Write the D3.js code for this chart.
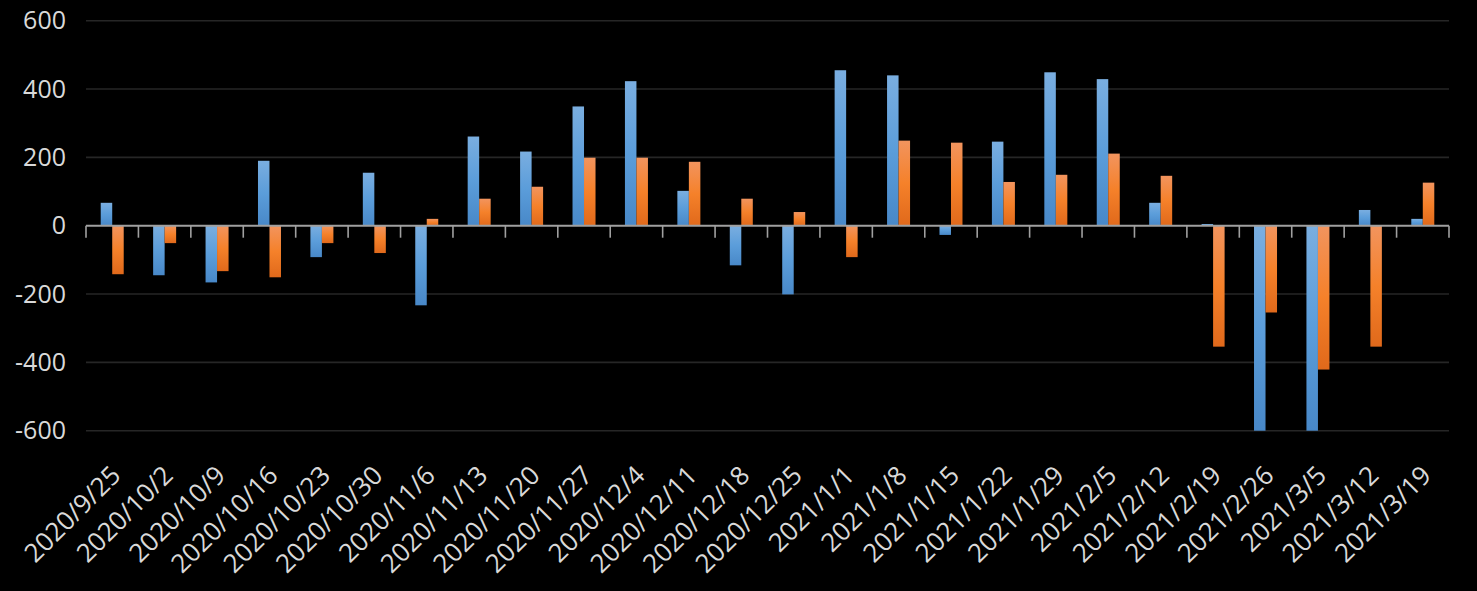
<!DOCTYPE html>
<html>
<head>
<meta charset="utf-8">
<script src="https://cdn.jsdelivr.net/npm/d3@7"></script>
<style>
  html, body { margin: 0; padding: 0; background: #000; }
  svg { display: block; }
</style>
</head>
<body>
<svg id="chart" width="1477" height="591"></svg>
<script>
const categories = ["2020/9/25","2020/10/2","2020/10/9","2020/10/16","2020/10/23","2020/10/30","2020/11/6","2020/11/13","2020/11/20","2020/11/27","2020/12/4","2020/12/11","2020/12/18","2020/12/25","2021/1/1","2021/1/8","2021/1/15","2021/1/22","2021/1/29","2021/2/5","2021/2/12","2021/2/19","2021/2/26","2021/3/5","2021/3/12","2021/3/19"];
const seriesA = [67,-145,-166,190,-92,155,-233,261,217,349,423,102,-116,-201,455,440,-27,246,449,429,67,5,-600,-600,46,20];
const seriesB = [-142,-51,-133,-151,-51,-80,20,79,114,199,199,187,79,40,-92,249,243,128,149,211,146,-354,-254,-421,-354,126];
const yTicks = [-600,-400,-200,0,200,400,600];
const seriesKeys = ["A","B"];

(function () {
const plotLeft = 86, plotRight = 1449, plotTop = 20.7, plotBottom = 430.7;

const svg = d3.select("#chart");
const defs = svg.append("defs");

function grad(id, stops) {
  const g = defs.append("linearGradient").attr("id", id)
    .attr("x1", 0).attr("y1", 0).attr("x2", 0).attr("y2", 1);
  stops.forEach(([o, c]) => g.append("stop").attr("offset", o).attr("stop-color", c));
}
grad("gA", [[0, "#7aaee0"], [0.5, "#5b9dda"], [1, "#4888c8"]]);
grad("gB", [[0, "#f2945e"], [0.5, "#f5812a"], [1, "#e0691b"]]);

const y = d3.scaleLinear().domain([-600, 600]).range([plotBottom, plotTop]);
const step = (plotRight - plotLeft) / categories.length;
const groupW = 23;
const pad = (step - groupW) / step;
const x0 = d3.scaleBand().domain(categories).range([plotLeft, plotRight])
  .paddingInner(pad).paddingOuter(pad / 2);
const x1 = d3.scaleBand().domain(seriesKeys).range([0, x0.bandwidth()]);

// gridlines
svg.append("g").selectAll("line").data(yTicks.filter(d => d !== 0)).join("line")
  .attr("x1", plotLeft).attr("x2", plotRight)
  .attr("y1", d => y(d)).attr("y2", d => y(d))
  .attr("stroke", "#262626").attr("stroke-width", 1.6);

// y labels
svg.append("g").selectAll("text").data(yTicks).join("text")
  .attr("x", 66).attr("y", d => y(d))
  .attr("dy", "0.35em")
  .attr("text-anchor", "end")
  .attr("font-family", "'Open Sans', sans-serif")
  .attr("font-size", 25)
  .attr("fill", "#d9d9d9")
  .text(d => d);

// bars
const rows = categories.map((c, i) => ({ c, vals: [seriesA[i], seriesB[i]] }));
const g = svg.append("g");
rows.forEach(r => {
  r.vals.forEach((v, k) => {
    const key = seriesKeys[k];
    g.append("rect")
      .attr("x", x0(r.c) + x1(key))
      .attr("width", x1.bandwidth())
      .attr("y", Math.min(y(v), y(0)))
      .attr("height", Math.abs(y(v) - y(0)))
      .attr("fill", `url(#g${key})`);
  });
});

// zero axis line
svg.append("line")
  .attr("x1", plotLeft).attr("x2", plotRight)
  .attr("y1", y(0)).attr("y2", y(0))
  .attr("stroke", "#a0a0a0").attr("stroke-width", 2);

// ticks at category boundaries
const bounds = categories.map((c, i) => plotLeft + i * step).concat([plotRight]);
svg.append("g").selectAll("line").data(bounds).join("line")
  .attr("x1", d => d).attr("x2", d => d)
  .attr("y1", y(0)).attr("y2", y(0) + 12)
  .attr("stroke", "#a0a0a0").attr("stroke-width", 1.6);

// x labels
svg.append("g").selectAll("text").data(categories).join("text")
  .attr("transform", d => `translate(${x0(d) + x0.bandwidth() / 2 + 10},${477}) rotate(-45)`)
  .attr("text-anchor", "end")
  .attr("font-family", "'Open Sans', sans-serif")
  .attr("font-size", 26)
  .attr("fill", "#d9d9d9")
  .text(d => d);
})();
</script>
</body>
</html>
